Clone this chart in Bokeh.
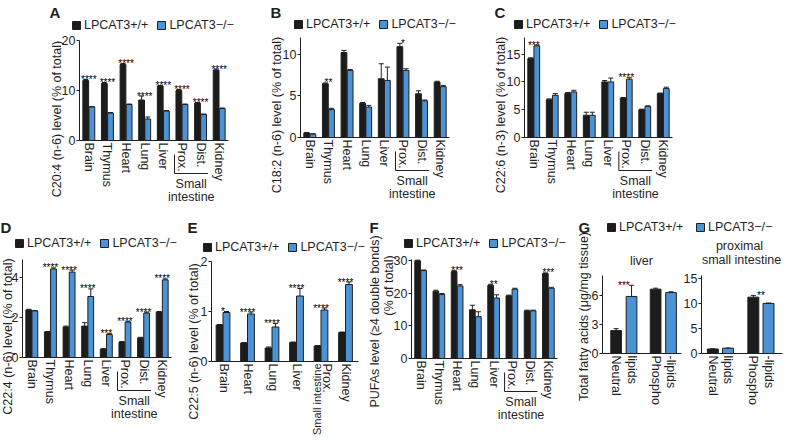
import math
from bokeh.plotting import figure
from bokeh.models import (ColumnDataSource, Range1d, FixedTicker, Label, Legend, LegendItem)
from bokeh.layouts import row, column
from bokeh.core.properties import value
from bokeh.embed import file_html
from bokeh.resources import INLINE

# ---------------- data ----------------
WT = "LPCAT3+/+"
KO = "LPCAT3\u2212/\u2212"
tissues = ["Brain", "Thymus", "Heart", "Lung", "Liver", "Prox.", "Dist.", "Kidney"]
tissues_e = ["Brain", "Heart", "Lung", "Liver", "Prox.", "Kidney"]
lipid_classes = [("Neutral", "lipids"), ("Phospho", "-lipids")]

a_wt = [12.0, 11.4, 15.2, 8.1, 10.9, 10.0, 7.5, 14.1]
a_wt_err = [0.2, 0.2, 0.2, 0.8, 0.1, 0.2, 0.1, 0.2]
a_ko = [6.7, 5.5, 7.2, 4.3, 5.9, 7.2, 5.2, 6.4]
a_ko_err = [0.1, 0.1, 0.1, 0.4, 0.1, 0.1, 0.1, 0.1]
a_sig = ["****", "****", "****", "****", "****", "****", "****", "****"]

b_wt = [0.55, 6.45, 10.2, 4.1, 7.05, 10.9, 5.25, 6.65]
b_wt_err = [0.05, 0.1, 0.25, 0.1, 1.8, 0.4, 0.35, 0.1]
b_ko = [0.4, 3.35, 8.05, 3.65, 6.85, 8.05, 4.4, 6.1]
b_ko_err = [0.05, 0.15, 0.1, 0.2, 1.6, 0.2, 0.1, 0.15]
b_sig = ["", "**", "", "", "", "*", "", ""]

c_wt = [14.2, 6.8, 7.9, 4.0, 10.0, 7.1, 5.0, 7.9]
c_wt_err = [0.15, 0.15, 0.2, 0.55, 0.25, 0.1, 0.1, 0.1]
c_ko = [16.5, 7.6, 8.2, 4.0, 10.0, 10.5, 5.6, 8.8]
c_ko_err = [0.15, 0.3, 0.3, 0.55, 0.7, 0.25, 0.1, 0.25]
c_sig = ["***", "", "", "", "", "****", "", ""]

d_wt = [2.38, 1.28, 1.53, 1.57, 0.42, 0.77, 0.98, 2.27]
d_wt_err = [0.03, 0.02, 0.04, 0.17, 0.02, 0.03, 0.03, 0.03]
d_ko = [2.33, 4.43, 4.27, 3.05, 1.15, 1.77, 2.22, 3.88]
d_ko_err = [0.02, 0.05, 0.1, 0.38, 0.04, 0.04, 0.05, 0.05]
d_sig = ["", "****", "****", "****", "***", "****", "****", "****"]

e_wt = [0.73, 0.37, 0.27, 0.38, 0.31, 0.58]
e_wt_err = [0.01, 0.01, 0.02, 0.01, 0.01, 0.01]
e_ko = [0.98, 0.95, 0.69, 1.31, 1.03, 1.54]
e_ko_err = [0.02, 0.04, 0.07, 0.15, 0.04, 0.05]
e_sig = ["*", "****", "****", "****", "****", "****"]

f_wt = [29.9, 20.6, 26.6, 14.9, 22.4, 19.2, 14.6, 26.0]
f_wt_err = [0.2, 0.3, 0.3, 1.4, 0.3, 0.2, 0.2, 0.2]
f_ko = [26.9, 19.6, 22.2, 12.8, 18.5, 21.2, 14.6, 21.5]
f_ko_err = [0.2, 0.3, 0.4, 1.5, 1.0, 0.3, 0.2, 0.3]
f_sig = ["", "", "***", "", "**", "", "", "***"]

g_liver_wt = [2.35, 6.6]
g_liver_wt_err = [0.2, 0.1]
g_liver_ko = [5.85, 6.25]
g_liver_ko_err = [1.15, 0.08]
g_liver_sig = ["***", ""]

g_si_wt = [0.9, 11.2]
g_si_wt_err = [0.03, 0.35]
g_si_ko = [1.05, 9.95]
g_si_ko_err = [0.05, 0.08]
g_si_sig = ["", "**"]

# ---------------- style / layout ----------------
FONT = "Liberation Sans"
FS = "12.5px"
INK = "#1f1f1f"
BLACK_BAR = "#1c1c1c"
BLUE_BAR = "#4b93d6"

# page-pixel geometry: canvas (x, y, w, h), frame = axis box (left, right, top, zero-line)
GEO = {
    "A": dict(canvas=(0, 0, 265, 208), frame=(79, 228, 40, 140), letter=(49, 12), leg=(71, 26), ytitle=(56, 118.5)),
    "B": dict(canvas=(265, 0, 225, 208), frame=(300, 449, 37, 137), letter=(270, 12), leg=(293, 25), ytitle=(276, 114.5)),
    "C": dict(canvas=(490, 0, 296, 208), frame=(524, 672, 37, 137), letter=(494, 12), leg=(513, 25), ytitle=(500, 114.5)),
    "D": dict(canvas=(0, 208, 186, 234), frame=(22, 171, 259, 357), letter=(0, 227), leg=(14, 244), ytitle=(7, 336)),
    "E": dict(canvas=(186, 208, 181, 234), frame=(211, 358, 261, 361), letter=(187, 227), leg=(202, 248), ytitle=(193, 341)),
    "F": dict(canvas=(367, 208, 208, 234), frame=(411, 557, 259, 358), letter=(369, 227), leg=(403, 244)),
    "G1": dict(canvas=(575, 208, 108, 234), frame=(602, 681, 275, 353), letter=(578, 227), leg=(606, 228), ytitle=(583, 316)),
    "G2": dict(canvas=(683, 208, 103, 234), frame=(701, 782, 275, 353), leg=(695, 228)),
}


def make_panel(key, cats, wt, wt_err, ko, ko_err, sig, ymax, yticks, offs, bar_w,
               ytitle=None, legend_which=("wt", "ko"), tick_spec=None):
    g = GEO[key]
    cx, cy, cw, ch = g["canvas"]
    L, R, T, B = g["frame"]
    n = len(cats)
    gw = (R - L) / n

    def X(px):
        return (px - L) / gw - 0.5

    def Y(py):
        return (B - py) / (B - T) * ymax

    p = figure(width=cw, height=ch, x_range=Range1d(X(cx), X(cx + cw)), y_range=Range1d(Y(cy + ch), Y(cy)),
               output_backend="svg", toolbar_location=None, min_border=0,
               min_border_left=0, min_border_right=0, min_border_top=0, min_border_bottom=0)
    p.outline_line_color = None
    p.xgrid.visible = False
    p.ygrid.visible = False
    p.background_fill_color = "white"
    p.border_fill_color = "white"

    idx = list(range(n))
    wt_up = [v + e for v, e in zip(wt, wt_err)]
    ko_up = [v + e for v, e in zip(ko, ko_err)]
    src = ColumnDataSource(dict(
        x_wt=[i + offs[0] for i in idx], x_ko=[i + offs[1] for i in idx],
        x_sig=[i + (offs[0] + offs[1]) / 2 for i in idx],
        wt=wt, ko=ko, wt_up=wt_up, ko_up=ko_up, sig=sig,
        sig_y=[max(a, b) for a, b in zip(wt_up, ko_up)]))
    cap = 2.5 / gw
    rends = {}
    for name, fill in (("wt", BLACK_BAR), ("ko", BLUE_BAR)):
        rends[name] = p.vbar(x="x_" + name, top=name, width=bar_w, source=src,
                             fill_color=fill, line_color=INK, line_width=1)
    for name in ("wt", "ko"):
        xs = src.data["x_" + name]
        up = src.data[name + "_up"]
        p.segment(x0=xs, y0=src.data[name], x1=xs, y1=up, line_color=INK, line_width=1)
        p.segment(x0=[x - cap for x in xs], y0=up, x1=[x + cap for x in xs], y1=up,
                  line_color=INK, line_width=1)
    p.text(x="x_sig", y="sig_y", text="sig", source=src,
           text_align="center", text_baseline="alphabetic", y_offset=0,
           text_font=value(FONT), text_font_size="10px", text_color="#000000")

    # axes, fixed at the zero line and at the left edge of the bar area
    yax = p.yaxis[0]
    yax.fixed_location = -0.5
    yax.bounds = (0, ymax)
    yax.ticker = FixedTicker(ticks=yticks, minor_ticks=[])
    yax.major_tick_out = 3
    yax.major_tick_in = 0
    yax.minor_tick_line_color = None
    yax.major_label_standoff = 1
    yax.major_tick_line_color = INK
    xax = p.xaxis[0]
    xax.fixed_location = 0
    xax.bounds = (-0.5, n - 0.5)
    if tick_spec is None:
        tick_spec = [(i, c) for i, c in zip(idx, cats)]
    xax.ticker = FixedTicker(ticks=[t for t, _ in tick_spec], minor_ticks=[])
    xax.major_label_overrides = {t: s for t, s in tick_spec}
    xax.major_tick_line_color = None
    xax.major_tick_out = 0
    xax.major_tick_in = 0
    xax.minor_tick_line_color = None
    xax.major_label_orientation = "vertical"
    xax.major_label_standoff = 2
    for ax in (xax, yax):
        ax.axis_line_color = INK
        ax.axis_line_width = 1
        ax.major_label_text_font = FONT
        ax.major_label_text_font_size = FS
        ax.major_label_text_color = INK

    # legend
    names = {"wt": WT, "ko": KO}
    items = [LegendItem(label=value(names[k]), renderers=[rends[k]]) for k in legend_which]
    lx, ly = g["leg"]
    leg = Legend(items=items, orientation="horizontal", location=(lx - cx, (cy + ch) - (ly + 6)),
                 padding=0, margin=0, spacing=8, label_standoff=3, glyph_width=10, glyph_height=10,
                 label_height=12, label_width=10, border_line_color=None, background_fill_alpha=0,
                 label_text_font=FONT, label_text_font_size=FS, label_text_color=INK)
    p.add_layout(leg)

    if "letter" in g:
        lx, ly = g["letter"]
        p.add_layout(Label(x=X(lx), y=Y(ly), text=key[0], text_font=FONT, text_font_size="15px",
                           text_font_style="bold", text_color=INK, text_align="left",
                           text_baseline="alphabetic"))
    if ytitle is not None and "ytitle" in g:
        tx, ty = g["ytitle"]
        p.add_layout(Label(x=X(tx), y=Y(ty), text=ytitle, angle=math.pi / 2, text_font=FONT,
                           text_font_size=FS, text_color=INK, text_align="center",
                           text_baseline="middle"))
    p._X, p._Y, p._B = X, Y, B
    return p


def txt(p, px, py, text, **kw):
    opts = dict(text_font=FONT, text_font_size=FS, text_color=INK, text_align="center",
                text_baseline="middle")
    opts.update(kw)
    p.add_layout(Label(x=p._X(px), y=p._Y(py), text=text, **opts))


def small_intestine(p):
    B, Y = p._B, p._Y
    i0 = tissues.index("Prox.")
    mid = i0 + 0.5
    p.add_layout(Label(x=mid, y=Y(B + 43), text="Small", text_font=FONT, text_font_size=FS,
                       text_color=INK, text_align="center", text_baseline="middle"))
    p.add_layout(Label(x=mid, y=Y(B + 56), text="intestine", text_font=FONT, text_font_size=FS,
                       text_color=INK, text_align="center", text_baseline="middle"))
    x0, x1 = i0 - 0.4, i0 + 1.4
    yb = Y(B + 33)
    p.segment(x0=[x0, x0], y0=[Y(B + 14), yb], x1=[x0, x1], y1=[yb, yb], line_color=INK, line_width=1)


OFF8 = (-0.165, 0.165)
W8 = 0.31

pA = make_panel("A", tissues, a_wt, a_wt_err, a_ko, a_ko_err, a_sig, 20, [0, 10, 20], OFF8, W8,
                ytitle="C20:4 (n-6) level (% of total)")
small_intestine(pA)
pB = make_panel("B", tissues, b_wt, b_wt_err, b_ko, b_ko_err, b_sig, 12, [0, 5, 10], OFF8, W8,
                ytitle="C18:2 (n-6) level (% of total)")
small_intestine(pB)
pC = make_panel("C", tissues, c_wt, c_wt_err, c_ko, c_ko_err, c_sig, 18, [0, 5, 10, 15], OFF8, W8,
                ytitle="C22:6 (n-3) level (% of total)")
small_intestine(pC)
pD = make_panel("D", tissues, d_wt, d_wt_err, d_ko, d_ko_err, d_sig, 4.9, [0, 2, 4], OFF8, W8,
                ytitle="C22:4 (n-6) level (% of total)")
small_intestine(pD)

OFFE = (-0.17, 0.11)
e_ticks = [(i, c) for i, c in enumerate(tissues_e) if c != "Prox."]
e_ticks.append((tissues_e.index("Prox.") + 0.22, "Prox."))
pE = make_panel("E", tissues_e, e_wt, e_wt_err, e_ko, e_ko_err, e_sig, 2, [0, 1, 2], OFFE, 0.28,
                ytitle="C22:5 (n-6) level (% of total)", tick_spec=e_ticks)
txt(pE, 316, 363, "Small intestine", angle=math.pi / 2, text_align="right", text_font_size="11px")

pF = make_panel("F", tissues, f_wt, f_wt_err, f_ko, f_ko_err, f_sig, 30.3, [0, 10, 20, 30], OFF8, W8)
small_intestine(pF)
txt(pF, 374, 321, "PUFAs level (\u22654 double bonds)", angle=math.pi / 2)
txt(pF, 388, 285, "(% of total)", angle=math.pi / 2)

OFFG1 = (-0.155, 0.235)
OFFG2 = (-0.22, 0.155)
g_names = [a + " " + b for a, b in lipid_classes]


def g_ticks(offs):
    spec = []
    for i, (l1, l2) in enumerate(lipid_classes):
        spec.append((i + offs[0], l1))
        spec.append((i + offs[1], l2))
    return spec


pG1 = make_panel("G1", g_names, g_liver_wt, g_liver_wt_err, g_liver_ko, g_liver_ko_err, g_liver_sig,
                 8, [0, 3, 6], OFFG1, 0.27, ytitle="Total fatty acids (\u03bcg/mg tissue)",
                 legend_which=("wt",), tick_spec=g_ticks(OFFG1))
txt(pG1, 641, 260, "liver")
pG2 = make_panel("G2", g_names, g_si_wt, g_si_wt_err, g_si_ko, g_si_ko_err, g_si_sig,
                 15.5, [0, 5, 10, 15], OFFG2, 0.27, legend_which=("ko",), tick_spec=g_ticks(OFFG2))
txt(pG2, 739, 245, "proximal")
txt(pG2, 741, 259, "small intestine")

layout = column(row(pA, pB, pC), row(pD, pE, pF, pG1, pG2))
open("out.html", "w").write(file_html(layout, INLINE, title="LPCAT3 fatty acids"))
